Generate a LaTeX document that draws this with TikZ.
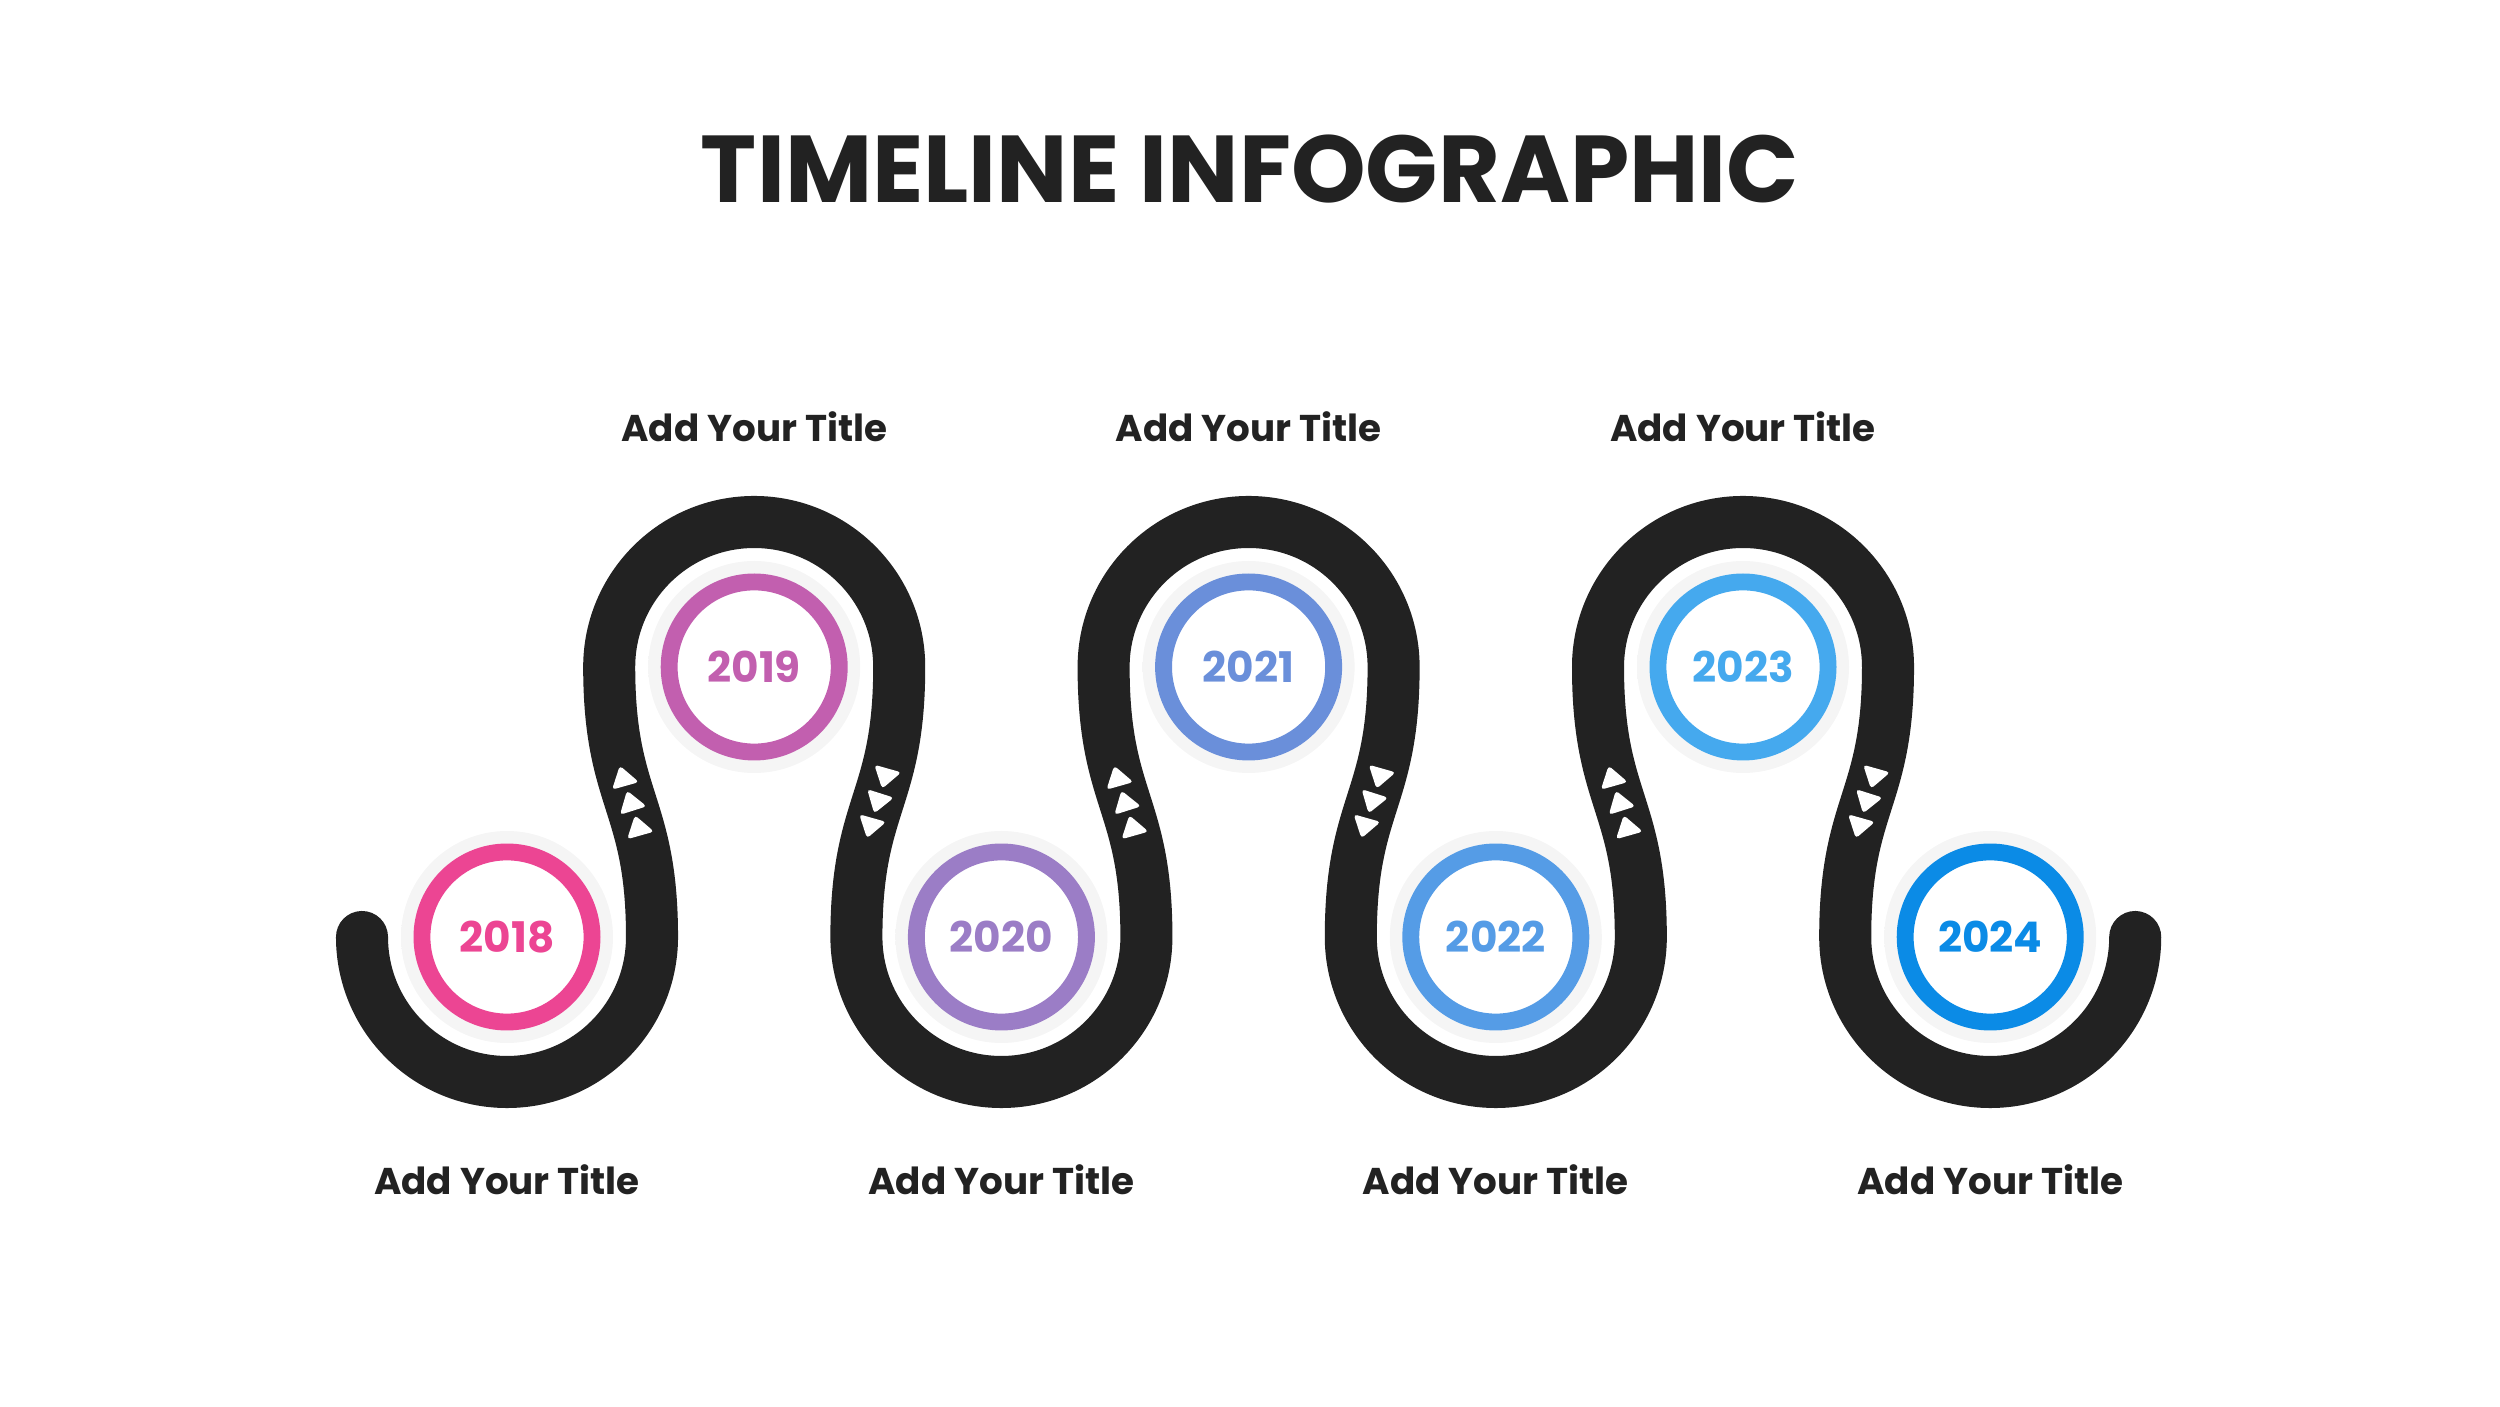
\documentclass[tikz,border=0pt]{standalone}
\usepackage{fontspec}
\setmainfont{Poppins}
\usepackage{tikz}
\usetikzlibrary{calc}

\definecolor{roadgray}{HTML}{222222}
\definecolor{c2018}{HTML}{EC4593}
\definecolor{c2019}{HTML}{C25FAF}
\definecolor{c2020}{HTML}{9B7DC6}
\definecolor{c2021}{HTML}{6A8FDA}
\definecolor{c2022}{HTML}{559CE6}
\definecolor{c2023}{HTML}{45A9EE}
\definecolor{c2024}{HTML}{0B8BE6}

\pgfdeclareradialshading{ringglow}{\pgfpoint{0bp}{0bp}}{color(0bp)=(black!4); color(42bp)=(black!4); color(50bp)=(white); color(70bp)=(white)}

\begin{document}
\begin{tikzpicture}[x=0.01cm,y=0.01cm,
  road/.style={line width=14.8pt, roadgray, line cap=round},
  ring/.style={circle, draw, line width=4.8pt, minimum size=1.7cm, fill=white, inner sep=0pt, font=\bfseries\fontsize{12}{14}\selectfont},
  capt/.style={font=\bfseries\fontsize{10.6}{12}\selectfont, text=roadgray},
  tri/.pic={\fill[white, rounded corners=1pt] (12,0) -- (-9,14) -- (-9,-14) -- cycle;}]

\useasboundingbox (0,0) rectangle (2500,1406);

\node[font=\bfseries\fontsize{27}{30}\selectfont, text=roadgray] (title) at (1250,1237) {TIMELINE INFOGRAPHIC};

% the road
\draw[road] (362,469) arc[start angle=180, end angle=360, radius=145]
  .. controls +(0,135) and +(0,-135) .. ++(-42.8,270)
     pic[pos=0.38, sloped, allow upside down]{tri} pic[pos=0.5, sloped, allow upside down]{tri} pic[pos=0.62, sloped, allow upside down]{tri}
  arc[start angle=180, end angle=0, radius=145]
  .. controls +(0,-135) and +(0,135) .. ++(-42.8,-270)
     pic[pos=0.38, sloped, allow upside down]{tri} pic[pos=0.5, sloped, allow upside down]{tri} pic[pos=0.62, sloped, allow upside down]{tri}
  arc[start angle=180, end angle=360, radius=145]
  .. controls +(0,135) and +(0,-135) .. ++(-42.8,270)
     pic[pos=0.38, sloped, allow upside down]{tri} pic[pos=0.5, sloped, allow upside down]{tri} pic[pos=0.62, sloped, allow upside down]{tri}
  arc[start angle=180, end angle=0, radius=145]
  .. controls +(0,-135) and +(0,135) .. ++(-42.8,-270)
     pic[pos=0.38, sloped, allow upside down]{tri} pic[pos=0.5, sloped, allow upside down]{tri} pic[pos=0.62, sloped, allow upside down]{tri}
  arc[start angle=180, end angle=360, radius=145]
  .. controls +(0,135) and +(0,-135) .. ++(-42.8,270)
     pic[pos=0.38, sloped, allow upside down]{tri} pic[pos=0.5, sloped, allow upside down]{tri} pic[pos=0.62, sloped, allow upside down]{tri}
  arc[start angle=180, end angle=0, radius=145]
  .. controls +(0,-135) and +(0,135) .. ++(-42.8,-270)
     pic[pos=0.38, sloped, allow upside down]{tri} pic[pos=0.5, sloped, allow upside down]{tri} pic[pos=0.62, sloped, allow upside down]{tri}
  arc[start angle=180, end angle=360, radius=145];

% year rings
\foreach \yr/\px/\py in {2018/507/469, 2019/754.2/739, 2020/1001.4/469, 2021/1248.6/739, 2022/1495.8/469, 2023/1743/739, 2024/1990.2/469}
{
  \shade[shading=ringglow] (\px,\py) circle[radius=106];
  \node[ring, draw=c\yr, text=c\yr] (y\yr) at (\px,\py) {\yr};
}

% titles
\foreach \yr/\px in {2019/754.2, 2021/1248.6, 2023/1743}
  \node[capt] (t\yr) at (\px,979) {Add Your Title};
\foreach \yr/\px in {2018/507, 2020/1001.4, 2022/1495.8, 2024/1990.2}
  \node[capt] (t\yr) at (\px,226) {Add Your Title};

\end{tikzpicture}
\end{document}
